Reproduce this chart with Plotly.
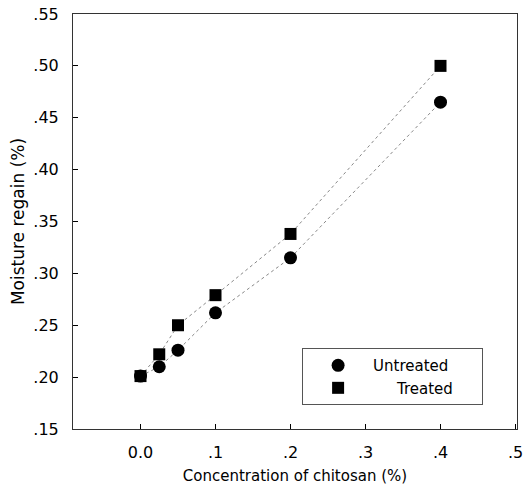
import plotly.graph_objects as go

conc = [0.0, 0.025, 0.05, 0.1, 0.2, 0.4]
untreated = [0.201, 0.210, 0.226, 0.262, 0.315, 0.465]
treated = [0.201, 0.222, 0.250, 0.279, 0.338, 0.500]

xtick_vals = [0.0, 0.1, 0.2, 0.3, 0.4, 0.5]
xtick_text = ["0.0", ".1", ".2", ".3", ".4", ".5"]
ytick_vals = [0.15, 0.20, 0.25, 0.30, 0.35, 0.40, 0.45, 0.50, 0.55]
ytick_text = [".15", ".20", ".25", ".30", ".35", ".40", ".45", ".50", ".55"]

NB = "\u00a0"
fig = go.Figure()
for y in (untreated, treated):
    fig.add_trace(go.Scatter(x=conc, y=y, mode="lines", showlegend=False,
                             line=dict(color="#888888", width=1, dash="dot"),
                             hoverinfo="skip"))
fig.add_trace(go.Scatter(x=conc, y=untreated, mode="markers",
                         name="Untreated" + NB * 6,
                         marker=dict(symbol="circle", size=13, color="black")))
fig.add_trace(go.Scatter(x=conc, y=treated, mode="markers",
                         name=NB * 5 + "Treated",
                         marker=dict(symbol="square", size=12, color="black")))

font = "DejaVu Sans, sans-serif"
fig.update_layout(
    width=523, height=493,
    margin=dict(l=73, r=6, t=14, b=64),
    paper_bgcolor="white", plot_bgcolor="white",
    font=dict(family=font, color="black", size=16),
    legend=dict(x=0.516, y=0.195, xanchor="left", yanchor="top",
                bordercolor="#555555", borderwidth=1,
                font=dict(size=15, family=font),
                itemwidth=60, tracegroupgap=0),
    xaxis=dict(range=[-0.09, 0.502], tickvals=xtick_vals, ticktext=xtick_text,
               ticks="inside", ticklen=5, tickcolor="black",
               ticklabeloverflow="allow", ticklabelstandoff=9, automargin=False,
               showline=True, linecolor="#333333", linewidth=1, mirror=True,
               showgrid=False, zeroline=False, tickfont=dict(size=16),
               title=dict(text="Concentration of chitosan (%)", font=dict(size=15), standoff=9)),
    yaxis=dict(range=[0.15, 0.55], tickvals=ytick_vals, ticktext=ytick_text,
               ticks="inside", ticklen=5, tickcolor="black",
               ticklabelstandoff=10, automargin=False,
               showline=True, linecolor="#333333", linewidth=1, mirror=True,
               showgrid=False, zeroline=False, tickfont=dict(size=16),
               title=dict(text="Moisture regain (%)", font=dict(size=17), standoff=4)),
)
fig.write_html("out.html")
